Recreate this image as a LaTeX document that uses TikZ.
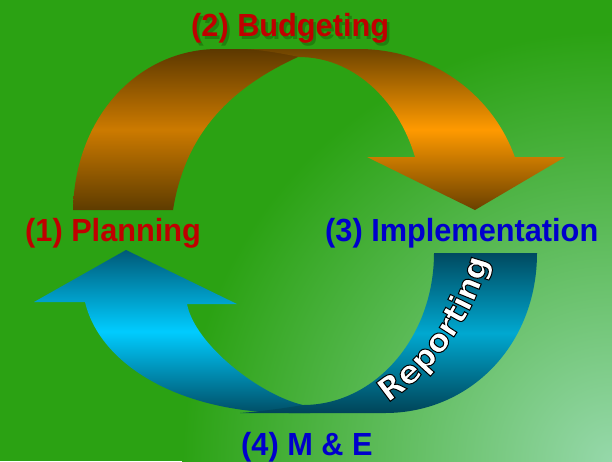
\documentclass[tikz,border=0pt]{standalone}
\usepackage{fontspec}
\setmainfont{Liberation Sans}
\newfontfamily\lblfont{Liberation Sans}[FakeStretch=0.96]
\newfontfamily\repfont{DejaVu Sans}
\usetikzlibrary{decorations.text}
\definecolor{bgdark}{HTML}{2BA213}
\definecolor{bglight}{HTML}{96D8AA}
\definecolor{oLtop}{HTML}{5C3800}
\definecolor{oLmid}{HTML}{CC7A00}
\definecolor{oLbot}{HTML}{5E3C00}
\definecolor{oRtop}{HTML}{6E4400}
\definecolor{oRmid}{HTML}{FF9A00}
\definecolor{oRbot}{HTML}{6A4000}
\definecolor{bLtop}{HTML}{005A78}
\definecolor{bLmid}{HTML}{00CCFF}
\definecolor{bLbot}{HTML}{004E66}
\definecolor{bRtop}{HTML}{004A60}
\definecolor{bRmid}{HTML}{00A8D0}
\definecolor{bRbot}{HTML}{004458}
\definecolor{lblred}{HTML}{C00000}
\definecolor{lblblue}{HTML}{0000CC}
\definecolor{shadowgreen}{HTML}{145A08}
\begin{document}
\begin{tikzpicture}[x=1pt,y=-1pt,
  lbl/.style={anchor=base west, inner sep=0pt, font=\lblfont\bfseries\fontsize{32}{34}\selectfont},
  reptext/.style={decorate, decoration={text along path, text align=center,
     text={|\repfont\bfseries\fontsize{32}{32}\selectfont\color{white}\special{pdf:literal direct 2 Tr 1 w 0 0 0 RG}|Reporting}}}]
\useasboundingbox (0,0) rectangle (612,461);
% background
\fill[bgdark] (0,0) rectangle (612,461);
\begin{scope}
  \clip (0,0) rectangle (612,461);
  \shade[inner color=bglight, outer color=bgdark] (612,461) circle[radius=430];
\end{scope}
% orange arrow: tail piece
\shade[top color=oLtop, bottom color=oLbot, middle color=oLmid]
  (73,210) .. controls (75,115) and (140,49) .. (218,49) -- (300,49) -- (298,57)
  .. controls (228,89) and (185,135) .. (173,210) -- cycle;
% orange arrow: head piece
\shade[top color=oRtop, bottom color=oRbot, middle color=oRmid]
  (240,49) -- (359,49) arc[start angle=270, end angle=340.8, x radius=165, y radius=161]
  -- (565,157) -- (475,210) -- (367,157) -- (415,157)
  arc[start angle=339.7, end angle=270, x radius=123, y radius=153]
  .. controls (275,52) and (255,49) .. (240,49) -- cycle;
% blue arrow: head piece
\shade[top color=bLtop, bottom color=bLbot, middle color=bLmid]
  (126,250) -- (34,302) -- (85,302) .. controls (100,365) and (180,413) .. (290,413)
  -- (310,413) -- (303,405)
  .. controls (260,395) and (195,345) .. (187,304) -- (237,304) -- cycle;
% blue arrow: tail piece
\shade[top color=bRtop, bottom color=bRbot, middle color=bRmid]
  (434,253) -- (537,253) .. controls (537,345) and (470,413) .. (385,413) -- (240,413)
  .. controls (265,411) and (285,408) .. (303,405)
  arc[start angle=90, end angle=0, x radius=131, y radius=152] -- cycle;
% labels
\node[lbl, text=shadowgreen, opacity=0.45] (budgetshadow) at (193.5,39.5) {(2) Budgeting};
\node[lbl, text=lblred] (budget) at (191,36.5) {(2) Budgeting};
\node[lbl, text=lblred] (plan) at (25,241.7) {(1) Planning};
\node[lbl, text=lblblue] (impl) at (325,241) {(3) Implementation};
\node[lbl, text=lblblue] (me) at (241,455) {(4) M \& E};
% Reporting text (white with black outline)
\path[reptext] (362,418) arc[start angle=63, end angle=7.4, radius=246];
\end{tikzpicture}
\end{document}
